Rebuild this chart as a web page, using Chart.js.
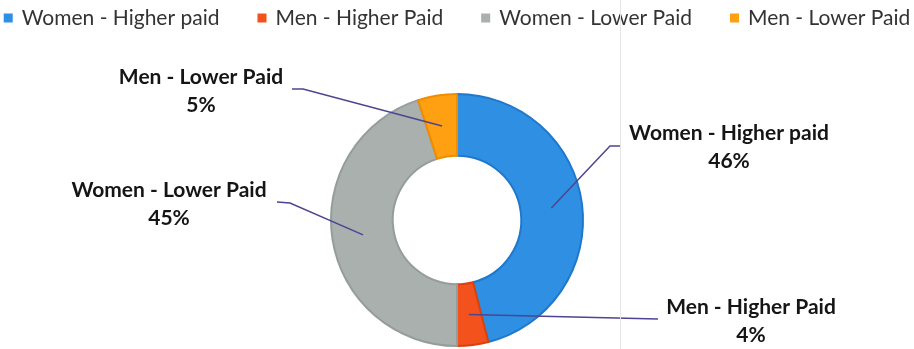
<!DOCTYPE html>
<html>
<head>
<meta charset="utf-8">
<script src="https://cdn.jsdelivr.net/npm/chart.js@4"></script>
<style>
  html, body { margin: 0; padding: 0; background: #fff; }
  #wrap { position: relative; width: 914px; height: 349px; }
  #sep { position: absolute; left: 620px; top: 0; width: 1px; height: 349px; background: #e6e6e8; }
</style>
</head>
<body>
<div id="wrap">
  <div id="sep"></div>
  <canvas id="grafica" width="914" height="349"></canvas>
</div>
<script>
// ── DATOS ──────────────────────────────────────────────
const categorias = ['Women - Higher paid', 'Men - Higher Paid', 'Women - Lower Paid', 'Men - Lower Paid'];
const porcentajes = [46, 4, 45, 5];

const colores  = ['#2f8fe3', '#f3521d', '#a9b0ae', '#ffa012'];
const bordes   = ['#1f78cc', '#d9420f', '#959d9b', '#f08c00'];

// etiquetas: posición del texto y codo de la línea, relativos al centro
const etiquetas = [
    { dx: 272, dy: -87, codo: [153, -74], fin: [164, -74] },
    { dx: 294, dy: 87,  codo: null,       fin: [201, 99] },
    { dx: -288, dy: -30, codo: [-167, -17], fin: [-180, -18] },
    { dx: -256, dy: -143, codo: [-154, -131], fin: [-165, -131] }
];

const FUENTE = 'Lato, "Open Sans", sans-serif';

// ── LEYENDA Y ETIQUETAS ────────────────────────────────
const pluginEtiquetas = {
    id: 'etiquetas',
    afterDraw(chart) {
        const ctx = chart.ctx;
        const meta = chart.getDatasetMeta(0);

        // leyenda superior
        ctx.save();
        ctx.font = '21px ' + FUENTE;
        ctx.textBaseline = 'middle';
        const caja = 9, hueco = 9, sep = 38;
        const anchos = categorias.map(c => caja + hueco + ctx.measureText(c).width);
        const total = anchos.reduce((a, b) => a + b, 0) + sep * (categorias.length - 1);
        let x = (chart.width - total) / 2;
        const y = 18;
        categorias.forEach((c, i) => {
            ctx.fillStyle = colores[i];
            ctx.fillRect(x, y - caja / 2, caja, caja);
            ctx.fillStyle = '#333';
            ctx.textAlign = 'left';
            ctx.fillText(c, x + caja + hueco, y);
            x += anchos[i] + sep;
        });
        ctx.restore();

        // líneas guía y etiquetas de datos
        meta.data.forEach((arc, i) => {
            const p = arc.getProps(['x', 'y', 'startAngle', 'endAngle', 'innerRadius', 'outerRadius']);
            const ang = (p.startAngle + p.endAngle) / 2;
            const r = (p.innerRadius + p.outerRadius) / 2;
            const ax = p.x + Math.cos(ang) * r;
            const ay = p.y + Math.sin(ang) * r;
            const e = etiquetas[i];

            ctx.save();
            ctx.strokeStyle = '#4e4490';
            ctx.lineWidth = 1.5;
            ctx.beginPath();
            ctx.moveTo(ax, ay);
            if (e.codo) ctx.lineTo(p.x + e.codo[0], p.y + e.codo[1]);
            ctx.lineTo(p.x + e.fin[0], p.y + e.fin[1]);
            ctx.stroke();

            ctx.fillStyle = '#151515';
            ctx.font = 'bold 21px ' + FUENTE;
            ctx.textAlign = 'center';
            ctx.textBaseline = 'middle';
            ctx.fillText(categorias[i], p.x + e.dx, p.y + e.dy);
            ctx.fillText(porcentajes[i] + '%', p.x + e.dx, p.y + e.dy + 28);
            ctx.restore();
        });
    }
};

new Chart(document.getElementById('grafica'), {
    type: 'doughnut',
    data: {
        labels: categorias,
        datasets: [{
            data: porcentajes,
            backgroundColor: colores,
            borderColor: bordes,
            borderWidth: 2,
            hoverOffset: 0
        }]
    },
    options: {
        responsive: false,
        animation: false,
        radius: 126,
        cutout: '51%',
        layout: { padding: { top: 91, bottom: 0 } },
        plugins: {
            legend: { display: false },
            tooltip: { enabled: false }
        }
    },
    plugins: [pluginEtiquetas]
});
</script>
</body>
</html>
